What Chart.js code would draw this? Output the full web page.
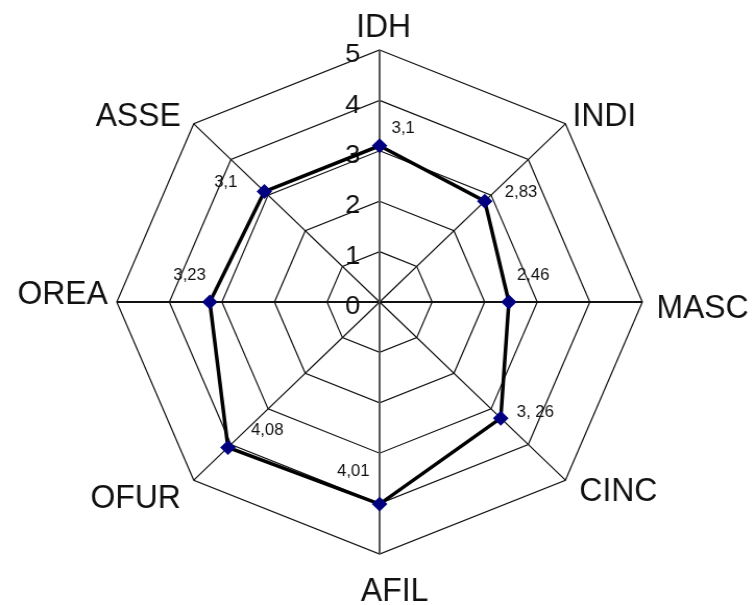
<!DOCTYPE html>
<html>
<head>
<meta charset="utf-8">
<script src="https://cdn.jsdelivr.net/npm/chart.js@4.4.1/dist/chart.umd.min.js"></script>
<style>
  html, body { margin: 0; padding: 0; background: #fff; overflow: hidden; }
  /* the original picture is a little wider than it is tall */
  #wrap { width: 724px; height: 605px; transform: scaleX(1.0428); transform-origin: 0 0; }
</style>
</head>
<body>
<div id="wrap"><canvas id="radarChart"></canvas></div>
<script>
const labels = ["IDH", "INDI", "MASC", "CINC", "AFIL", "OFUR", "OREA", "ASSE"];
const values = [3.1, 2.83, 2.46, 3.26, 4.01, 4.08, 3.23, 3.1];
const valueText = ["3,1", "2,83", "2,46", "3, 26", "4,01", "4,08", "3,23", "3,1"];
const tickValues = [0, 1, 2, 3, 4, 5];

const STRETCH = 755 / 724;
const fontFamily = "'Liberation Sans', Arial, sans-serif";

// label placement, like the spreadsheet did it: [align, dx, dy] in screen px
const axisLabelPos = [
    ["center", 4, -13], ["left", 7, 2], ["left", 14, 16], ["left", 14, 21],
    ["center", 15, 47], ["right", -13, 28], ["right", -9, 2], ["right", -13, 2]
];
const valueLabelPos = [
    ["left", 12, -17], ["left", 20, -9], ["left", 8, -26], ["left", 16, -6],
    ["right", -10, -33], ["left", 23, -17], ["right", -4, -26], ["right", -27, -9]
];

const textPlugin = {
    id: "radarTexts",
    beforeDatasetsDraw(chart) {
        const scale = chart.scales.r;
        const ctx = chart.ctx;
        ctx.save();
        // tick numbers, left of the vertical axis
        ctx.font = "26px " + fontFamily;
        ctx.fillStyle = "#111";
        ctx.textAlign = "center";
        ctx.textBaseline = "middle";
        tickValues.forEach(v => {
            const d = scale.getDistanceFromCenterForValue(v);
            ctx.fillText(String(v), scale.xCenter - 27 / STRETCH, scale.yCenter - d + 5);
        });
        // axis names
        ctx.font = "34px " + fontFamily;
        ctx.fillStyle = "#111";
        ctx.textBaseline = "alphabetic";
        labels.forEach((name, i) => {
            const p = scale.getPointPosition(i, scale.drawingArea);
            const [align, dx, dy] = axisLabelPos[i];
            ctx.save();
            ctx.translate(p.x + dx / STRETCH, p.y + dy);
            ctx.scale(0.9, 1);
            ctx.textAlign = align;
            ctx.fillText(name, 0, 0);
            ctx.restore();
        });
        ctx.restore();
    },
    afterDatasetsDraw(chart) {
        const meta = chart.getDatasetMeta(0);
        const ctx = chart.ctx;
        ctx.save();
        ctx.font = "16px " + fontFamily;
        ctx.fillStyle = "#111";
        ctx.textBaseline = "middle";
        meta.data.forEach((pt, i) => {
            const [align, dx, dy] = valueLabelPos[i];
            ctx.textAlign = align;
            ctx.fillText(valueText[i], pt.x + dx / STRETCH, pt.y + dy);
        });
        ctx.restore();
    }
};

new Chart(document.getElementById("radarChart"), {
    type: "radar",
    data: {
        labels: labels,
        datasets: [
            {
                label: "Valores",
                data: values,
                borderColor: "#000",
                borderWidth: 3.5,
                fill: false,
                pointStyle: "rectRot",
                pointRadius: 5,
                pointBackgroundColor: "#000080",
                pointBorderColor: "#000080"
            }
        ]
    },
    options: {
        responsive: true,
        maintainAspectRatio: false,
        animation: false,
        layout: { padding: { top: 50, bottom: 51, left: 112, right: 108 } },
        plugins: {
            legend: { display: false },
            tooltip: { enabled: false }
        },
        scales: {
            r: {
                min: 0,
                max: 5,
                ticks: { stepSize: 1, display: false },
                grid: { color: "#111", lineWidth: 1.2 },
                angleLines: {
                    color: ctx => (ctx.index === 0 || ctx.index === 4 ? "#555" : "#111"),
                    lineWidth: ctx => (ctx.index % 2 === 0 ? 2 : 1.2)
                },
                pointLabels: { display: false }
            }
        }
    },
    plugins: [textPlugin]
});
</script>
</body>
</html>
